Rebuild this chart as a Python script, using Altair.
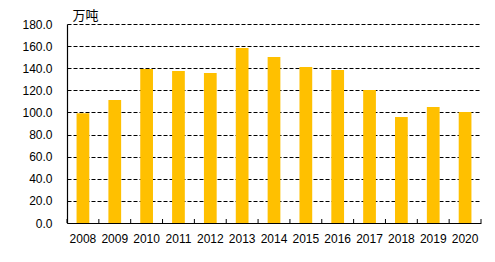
import altair as alt
import pandas as pd

years = ["2008", "2009", "2010", "2011", "2012", "2013", "2014",
         "2015", "2016", "2017", "2018", "2019", "2020"]
values = [99.2, 111.3, 139.4, 137.5, 135.7, 158.4, 150.1,
          141.1, 138.4, 120.4, 95.9, 104.9, 100.4]
y_ticks = [0, 20, 40, 60, 80, 100, 120, 140, 160, 180]
unit = "万吨"

df = pd.DataFrame({"year": years, "value": values})

FONT = "Liberation Sans"
W, H = 414, 199
P_IN, P_OUT = 0.6, 0.3
STEP = W / (len(years) - P_IN + 2 * P_OUT)
GAP = STEP * P_IN / 2

x_scale = alt.Scale(paddingInner=P_IN, paddingOuter=P_OUT)
y_scale = alt.Scale(domain=[0, 180])

bars = alt.Chart(df).mark_bar(color="#FFC000").encode(
    x=alt.X("year:N", scale=x_scale, sort=years,
            axis=alt.Axis(title=None, labelAngle=0, ticks=False, orient="bottom",
                          domainColor="black", domainWidth=1.2,
                          labelFont=FONT, labelFontSize=12,
                          labelColor="black", labelPadding=10)),
    y=alt.Y("value:Q", scale=y_scale,
            axis=alt.Axis(values=y_ticks, format=".1f", ticks=False,
                          domainColor="black", domainWidth=1.2,
                          grid=True, gridColor="black", gridDash=[4, 2],
                          gridWidth=1, gridOpacity=1,
                          labelFont=FONT, labelFontSize=12,
                          labelColor="black", labelPadding=15,
                          title=unit, titleAngle=0, titleAlign="left",
                          titleBaseline="middle", titleX=5, titleY=-9,
                          titleFont="Noto Sans CJK SC", titleFontSize=13,
                          titleFontWeight="normal", titleColor="black")),
)

# tick marks at the category boundaries (pointing up from the x axis)
ticks_start = alt.Chart(df).mark_rule(color="black", strokeWidth=1, xOffset=-GAP).encode(
    x=alt.X("year:N", scale=x_scale, sort=years, bandPosition=0),
    y=alt.value(H - 4),
    y2=alt.value(H),
)
ticks_end = alt.Chart(df).transform_filter(
    alt.datum.year == years[-1]
).mark_rule(color="black", strokeWidth=1, xOffset=GAP).encode(
    x=alt.X("year:N", scale=x_scale, sort=years, bandPosition=1),
    y=alt.value(H - 4),
    y2=alt.value(H),
)

chart = alt.layer(bars, ticks_start, ticks_end).properties(
    width=W, height=H,
    autosize=alt.AutoSizeParams(type="none"),
    padding={"left": 67, "top": 24, "right": 14, "bottom": 39},
    background="white",
).configure_view(stroke=None)

chart.save("out.html", embed_options={"renderer": "svg", "actions": False})
